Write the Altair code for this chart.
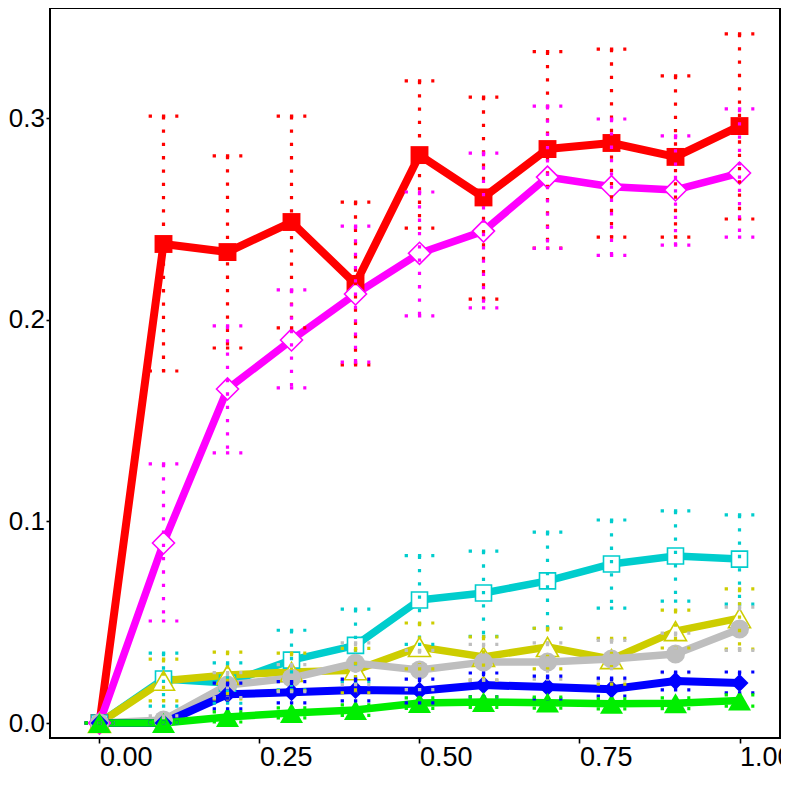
import altair as alt
import pandas as pd

# ---------------- data ----------------
x_vals = [0.0, 0.1, 0.2, 0.3, 0.4, 0.5, 0.6, 0.7, 0.8, 0.9, 1.0]

series_names = ["S1", "S2", "S3", "S4", "S5", "S6", "S7"]

s1_mean = [0, 0.2376, 0.2336, 0.2485, 0.2178, 0.2817, 0.2607, 0.2847, 0.2877, 0.2808, 0.2961]
s1_hi   = [0, 0.3010, 0.2813, 0.3010, 0.2584, 0.3185, 0.3105, 0.3330, 0.3343, 0.3210, 0.3418]
s1_lo   = [0, 0.1746, 0.1860, 0.1960, 0.1776, 0.2455, 0.2103, 0.2356, 0.2410, 0.2410, 0.2500]

s2_mean = [0, 0.0893, 0.1657, 0.1900, 0.2128, 0.2330, 0.2440, 0.2708, 0.2660, 0.2644, 0.2728]
s2_hi   = [0, 0.1285, 0.1970, 0.2148, 0.2465, 0.2634, 0.2827, 0.3060, 0.2996, 0.2912, 0.3046]
s2_lo   = [0, 0.0506, 0.1340, 0.1662, 0.1790, 0.2019, 0.2059, 0.2354, 0.2320, 0.2370, 0.2410]

s3_mean = [0, 0.0218, 0.0198, 0.0312, 0.0385, 0.0610, 0.0645, 0.0705, 0.0789, 0.0828, 0.0813]
s3_hi   = [0, 0.0347, 0.0298, 0.0460, 0.0565, 0.0830, 0.0853, 0.0947, 0.1007, 0.1052, 0.1032]
s3_lo   = [0, 0.0084, 0.0098, 0.0164, 0.0205, 0.0390, 0.0430, 0.0470, 0.0570, 0.0605, 0.0590]

s4_mean = [0, 0.0210, 0.0238, 0.0253, 0.0262, 0.0377, 0.0328, 0.0377, 0.0317, 0.0456, 0.0520]
s4_hi   = [0, 0.0317, 0.0352, 0.0347, 0.0370, 0.0496, 0.0427, 0.0470, 0.0420, 0.0560, 0.0665]
s4_lo   = [0, 0.0110, 0.0120, 0.0160, 0.0150, 0.0268, 0.0213, 0.0268, 0.0193, 0.0372, 0.0367]

s5_mean = [0, 0.0015, 0.0188, 0.0223, 0.0297, 0.0263, 0.0302, 0.0302, 0.0317, 0.0342, 0.0466]
s5_hi   = [0, 0.0035, 0.0250, 0.0290, 0.0397, 0.0360, 0.0390, 0.0397, 0.0410, 0.0446, 0.0575]
s5_lo   = [0, 0.0000, 0.0126, 0.0156, 0.0190, 0.0166, 0.0213, 0.0218, 0.0213, 0.0250, 0.0360]

s6_mean = [0, 0.0000, 0.0142, 0.0152, 0.0164, 0.0160, 0.0188, 0.0178, 0.0168, 0.0208, 0.0198]
s6_hi   = [0, 0.0005, 0.0198, 0.0205, 0.0218, 0.0218, 0.0248, 0.0233, 0.0223, 0.0253, 0.0253]
s6_lo   = [0, 0.0000, 0.0070, 0.0100, 0.0110, 0.0100, 0.0130, 0.0120, 0.0134, 0.0164, 0.0150]

s7_mean = [0, 0.0000, 0.0030, 0.0050, 0.0064, 0.0099, 0.0104, 0.0101, 0.0095, 0.0098, 0.0112]
s7_hi   = [0, 0.0005, 0.0055, 0.0075, 0.0090, 0.0125, 0.0130, 0.0128, 0.0120, 0.0125, 0.0140]
s7_lo   = [0, 0.0000, 0.0005, 0.0025, 0.0038, 0.0073, 0.0078, 0.0074, 0.0070, 0.0071, 0.0084]

x_ticks = [0.0, 0.25, 0.5, 0.75, 1.0]
y_ticks = [0.0, 0.1, 0.2, 0.3]

# ---------------- styles ----------------
colors = ["#FF0000", "#FF00FF", "#00CDCD", "#CDCD00", "#BEBEBE", "#0000FF", "#00EE00"]
shapes = ["square", "diamond", "square", "triangle-up", "circle", "diamond", "triangle-up"]
open_marker = [False, True, True, True, False, False, False]
sizes = [320, 484, 256, 484, 361, 324, 529]
line_widths = [8, 7.5, 7.5, 7.5, 7.5, 8, 7.5]

means = [s1_mean, s2_mean, s3_mean, s4_mean, s5_mean, s6_mean, s7_mean]
his = [s1_hi, s2_hi, s3_hi, s4_hi, s5_hi, s6_hi, s7_hi]
los = [s1_lo, s2_lo, s3_lo, s4_lo, s5_lo, s6_lo, s7_lo]

CAP = 0.0232
rows = []
for name, m_list, h_list, l_list in zip(series_names, means, his, los):
    for xv, m, h, l in zip(x_vals, m_list, h_list, l_list):
        rows.append({"series": name, "x": xv, "y": m, "hi": h, "lo": l,
                     "xl": xv - CAP, "xr": xv + CAP})
df = pd.DataFrame(rows)

FONT = "Liberation Sans"
xs = alt.Scale(domain=[-0.07734, 1.06328], nice=False, zero=False)
ys = alt.Scale(domain=[-0.00744, 0.35466], nice=False, zero=False)

x_axis = alt.Axis(values=x_ticks, format=".2f", title=None, grid=False, domain=False,
                  labelAlign="left", labelBaseline="top", labelFlush=False,
                  labelOverlap=False, labelBound=False,
                  labelFontSize=27, labelFont=FONT, labelColor="black",
                  tickColor="black", tickWidth=1.6, tickSize=5, labelPadding=1)
y_axis = alt.Axis(values=y_ticks, format=".1f", title=None, grid=False, domain=False,
                  labelFlush=False, labelOverlap=False, labelBound=False,
                  labelFontSize=26, labelFont=FONT, labelColor="black",
                  tickColor="black", tickWidth=1.6, tickSize=4, labelPadding=1.5)

X = alt.X("x:Q", scale=xs, axis=x_axis)
Y = alt.Y("y:Q", scale=ys, axis=y_axis)

layers = []
# lines
for i, name in enumerate(series_names):
    layers.append(
        alt.Chart(df).transform_filter(alt.datum.series == name)
        .mark_line(color=colors[i], strokeWidth=line_widths[i], strokeJoin="round")
        .encode(x=X, y=Y)
    )
# points
for i, name in enumerate(series_names):
    if open_marker[i]:
        mk = alt.Chart(df).mark_point(shape=shapes[i], filled=True, fill="white",
                                      stroke=colors[i], strokeWidth=1.6,
                                      size=sizes[i], opacity=1)
    else:
        mk = alt.Chart(df).mark_point(shape=shapes[i], filled=True, color=colors[i],
                                      size=sizes[i], opacity=1)
    layers.append(mk.transform_filter(alt.datum.series == name).encode(x=X, y=Y))

# error bars (dotted)
dash = [3.3, 10]
for i, name in enumerate(series_names):
    base = alt.Chart(df).transform_filter(alt.datum.series == name)
    layers.append(
        base.mark_rule(color=colors[i], strokeWidth=3.2, strokeDash=dash)
        .encode(x=X, y=alt.Y("hi:Q", scale=ys, axis=y_axis), y2="lo:Q")
    )
    layers.append(
        base.mark_rule(color=colors[i], strokeWidth=3.2, strokeDash=dash)
        .encode(x=alt.X("xl:Q", scale=xs, axis=x_axis), x2="xr:Q",
                y=alt.Y("hi:Q", scale=ys, axis=y_axis))
    )
    layers.append(
        base.mark_rule(color=colors[i], strokeWidth=3.2, strokeDash=dash)
        .encode(x=alt.X("xl:Q", scale=xs, axis=x_axis), x2="xr:Q",
                y=alt.Y("lo:Q", scale=ys, axis=y_axis))
    )

chart = (
    alt.layer(*layers)
    .properties(width=730, height=730, background="white",
                autosize=alt.AutoSizeParams(type="none"),
                padding={"left": 42, "top": 0, "right": 1, "bottom": 35})
    .configure_view(stroke="black", strokeWidth=2)
)

chart.save("out.html", embed_options={"renderer": "svg", "actions": False})
